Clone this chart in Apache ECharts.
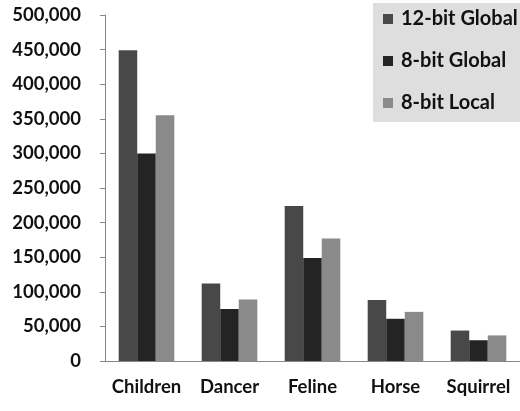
<!DOCTYPE html>
<html>
<head>
<meta charset="utf-8">
<script src="https://cdn.jsdelivr.net/npm/echarts@6/dist/echarts.min.js"></script>
<style>
  html, body { margin: 0; padding: 0; background: #fff; }
  #chart { width: 520px; height: 411px; }
</style>
</head>
<body>
<div id="chart"></div>
<script>
// data
var categories = ['Children', 'Dancer', 'Feline', 'Horse', 'Squirrel'];
var global12 = [449000, 112000, 224000, 88000, 44000];
var global8 = [300000, 75000, 149000, 61000, 30000];
var local8 = [355000, 89000, 177000, 71000, 37000];
var seriesNames = ['12-bit Global', '8-bit Global', '8-bit Local'];

var font = 'Lato';

var option = {
  animation: false,
  color: ['#484848', '#242424', '#8a8a8a'],
  grid: {
    left: 105,
    right: 0,
    top: 15,
    bottom: 50
  },
  legend: {
    orient: 'vertical',
    left: 373,
    top: 3,
    data: seriesNames,
    icon: 'rect',
    itemWidth: 10,
    itemHeight: 10,
    itemGap: 20,
    padding: [5, 20, 8, 10],
    backgroundColor: '#dedede',
    textStyle: {
      fontFamily: font,
      fontWeight: 'bold',
      fontSize: 20,
      lineHeight: 22,
      color: '#111',
      padding: [0, 0, 0, 3]
    }
  },
  xAxis: {
    type: 'category',
    data: categories,
    axisLine: { lineStyle: { color: '#888', width: 1 } },
    axisTick: { length: 5, lineStyle: { color: '#888' } },
    axisLabel: {
      interval: 0,
      margin: 17,
      fontFamily: font,
      fontWeight: 'bold',
      fontSize: 18.5,
      color: '#111'
    }
  },
  yAxis: {
    type: 'value',
    min: 0,
    max: 500000,
    interval: 50000,
    splitLine: { show: false },
    axisLine: { show: true, lineStyle: { color: '#888', width: 1 } },
    axisTick: { show: true, length: 5, lineStyle: { color: '#888' } },
    axisLabel: {
      margin: 24,
      fontFamily: font,
      fontWeight: 'bold',
      fontSize: 18.5,
      color: '#111',
      formatter: function (v) {
        return v.toString().replace(/\B(?=(\d{3})+(?!\d))/g, ',');
      }
    }
  },
  series: [
    { name: seriesNames[0], type: 'bar', data: global12, barGap: '0%', barCategoryGap: '33%' },
    { name: seriesNames[1], type: 'bar', data: global8, barGap: '0%', barCategoryGap: '33%' },
    { name: seriesNames[2], type: 'bar', data: local8, barGap: '0%', barCategoryGap: '33%' }
  ]
};

var chart = echarts.init(document.getElementById('chart'));
chart.setOption(option);
</script>
</body>
</html>
